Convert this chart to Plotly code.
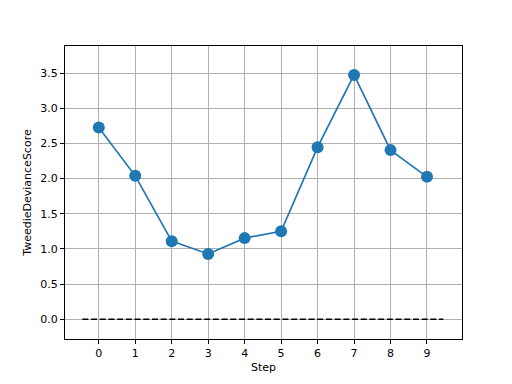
import plotly.graph_objects as go

steps = [0, 1, 2, 3, 4, 5, 6, 7, 8, 9]
scores = [2.727, 2.038, 1.11, 0.928, 1.153, 1.251, 2.446, 3.472, 2.404, 2.024]
baseline_x = [-0.45, 9.45]
baseline_y = [0.0, 0.0]
x_ticks = [0, 1, 2, 3, 4, 5, 6, 7, 8, 9]
y_ticks = [0.0, 0.5, 1.0, 1.5, 2.0, 2.5, 3.0, 3.5]
y_tick_labels = ["0.0", "0.5", "1.0", "1.5", "2.0", "2.5", "3.0", "3.5"]

fig = go.Figure()
fig.add_trace(go.Scatter(x=baseline_x, y=baseline_y, mode="lines",
                         line=dict(color="black", width=1.7, dash="6px,2.7px"),
                         showlegend=False, hoverinfo="skip"))
fig.add_trace(go.Scatter(x=steps, y=scores, mode="lines+markers",
                         line=dict(color="#1f77b4", width=1.7),
                         marker=dict(color="#1f77b4", size=12),
                         showlegend=False))

font = dict(family="DejaVu Sans", size=11, color="black")
fig.update_layout(
    width=512, height=384,
    margin=dict(l=65, r=50, t=46, b=42, pad=0),
    paper_bgcolor="white", plot_bgcolor="white",
    font=font,
    xaxis=dict(range=[-0.926, 9.96], tickvals=x_ticks, showgrid=True,
               gridcolor="#b0b0b0", gridwidth=0.9, zeroline=False,
               showline=True, linecolor="black", linewidth=1, mirror=True,
               ticks="outside", ticklen=4, tickcolor="black", tickwidth=0.9,
               title=dict(text="Step", font=font, standoff=4)),
    yaxis=dict(range=[-0.281, 3.884], tickvals=y_ticks, ticktext=y_tick_labels,
               showgrid=True, gridcolor="#b0b0b0", gridwidth=0.9, zeroline=False,
               showline=True, linecolor="black", linewidth=1, mirror=True,
               ticks="outside", ticklen=4, tickcolor="black", tickwidth=0.9,
               title=dict(text="TweedieDevianceScore", font=font, standoff=6)),
)
fig.write_html("out.html")
